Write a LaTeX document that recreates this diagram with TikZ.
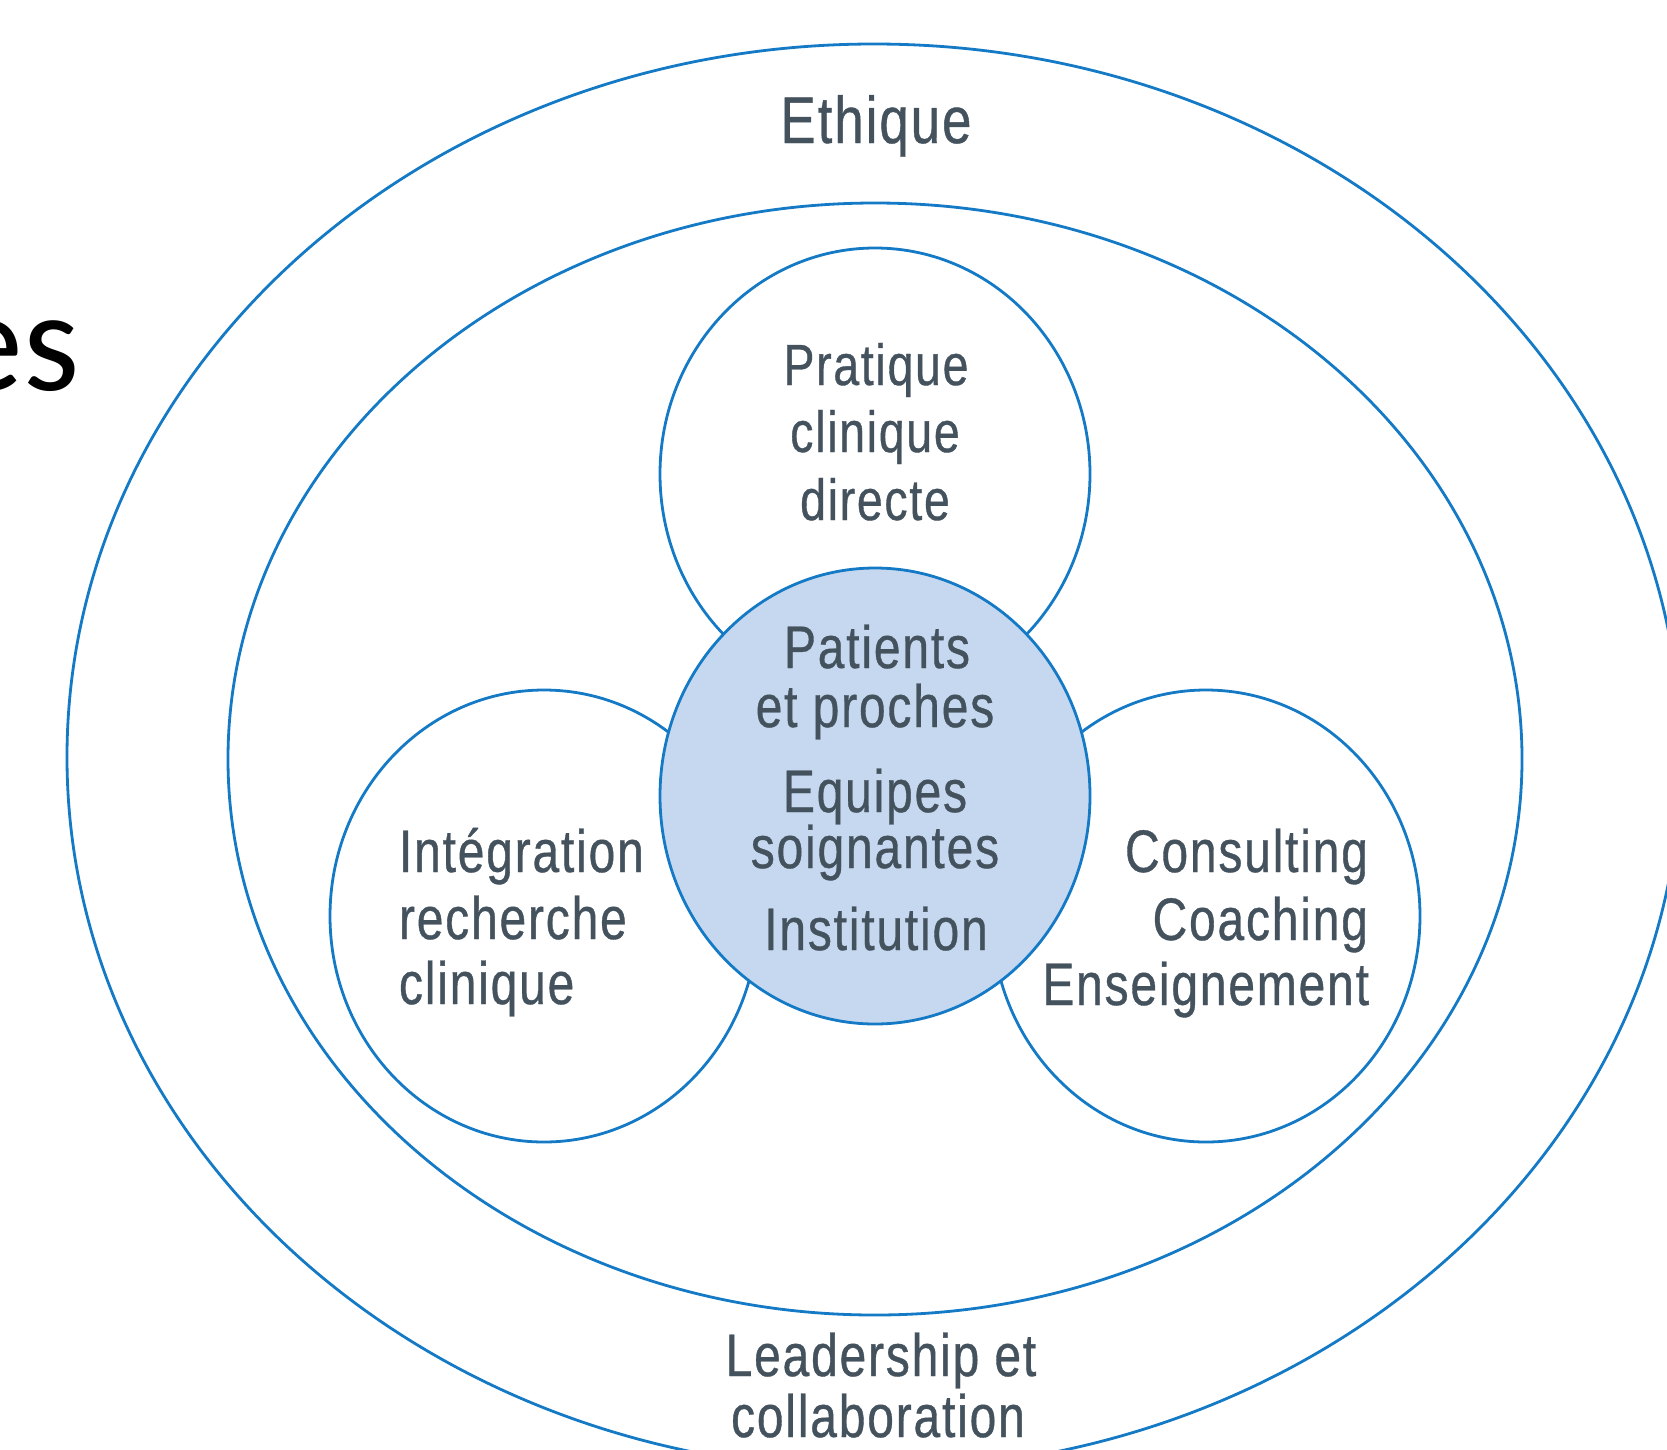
\documentclass[tikz,border=0pt]{standalone}
\usepackage{fontspec}
\setmainfont[FakeStretch=0.8,LetterSpace=3,FakeBold=0.6]{Liberation Sans}
\newfontfamily\slidefont{Carlito}
\definecolor{ringblue}{RGB}{20,122,198}
\definecolor{corefill}{RGB}{198,216,239}
\definecolor{labelgray}{RGB}{68,82,94}
\begin{document}
\begin{tikzpicture}[x=1pt,y=-1pt,
  ring/.style={draw=ringblue,line width=2.8pt},
  lbl/.style={inner sep=0pt,outer sep=0pt,text=labelgray,font=\fontsize{60}{62}\selectfont},
  lblc/.style={lbl,anchor=base},
  lbll/.style={lbl,anchor=base west},
  lblr/.style={lbl,anchor=base east}]
\useasboundingbox (0,0) rectangle (1667,1449);
\clip (0,0) rectangle (1667,1449);
\fill[white] (0,0) rectangle (1667,1449);
% rings
\draw[ring] (874,757) ellipse [x radius=807,y radius=713];
\draw[ring] (875,759) ellipse [x radius=647,y radius=556];
% petals
\draw[ring,fill=white] (875,474) ellipse [x radius=215,y radius=226];
\draw[ring,fill=white] (544,916) ellipse [x radius=214,y radius=226];
\draw[ring,fill=white] (1206,916) ellipse [x radius=214,y radius=226];
% core
\draw[ring,fill=corefill] (875,796) ellipse [x radius=215,y radius=228];
% slide title fragment
\node[inner sep=0pt,anchor=base east,font=\slidefont\fontsize{144}{150}\selectfont,text=black] (es) at (80,390) {es};
% labels
\node[lblc,font=\fontsize{66}{70}\selectfont] (ethique) at (876,143) {Ethique};
\node[lblc,font=\fontsize{58}{60}\selectfont] (p1) at (876,385) {Pratique};
\node[lblc,font=\fontsize{58}{60}\selectfont] (p2) at (875,452) {clinique};
\node[lblc,font=\fontsize{58}{60}\selectfont] (p3) at (875,520) {directe};
\node[lblc] (c1) at (877,668) {Patients};
\node[lblc] (c2) at (875,727) {et proches};
\node[lblc] (c3) at (875,812) {Equipes};
\node[lblc] (c4) at (875,868) {soignantes};
\node[lblc] (c5) at (876,950) {Institution};
\node[lbll] (l1) at (399,872) {Intégration};
\node[lbll] (l2) at (399,939) {recherche};
\node[lbll] (l3) at (399,1004) {clinique};
\node[lblr] (r1) at (1368,872) {Consulting};
\node[lblr] (r2) at (1368,940) {Coaching};
\node[lblr] (r3) at (1369,1005) {Enseignement};
\node[lblc] (b1) at (881,1376) {Leadership et};
\node[lblc] (b2) at (878,1437) {collaboration};
\end{tikzpicture}
\end{document}
